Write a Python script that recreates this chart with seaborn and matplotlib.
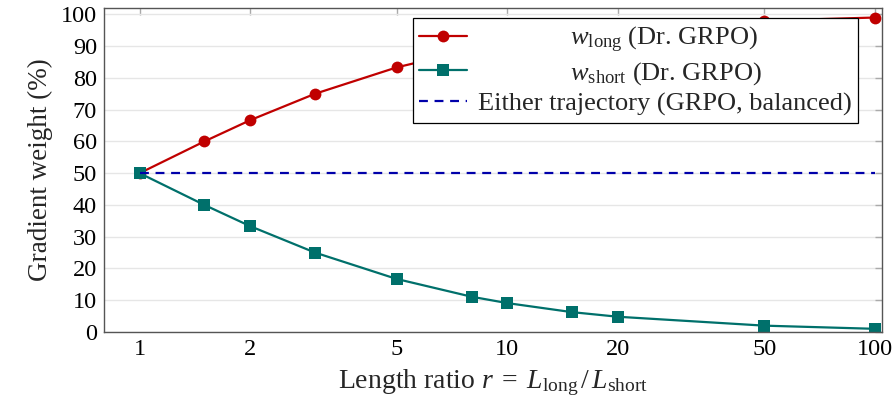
import matplotlib
matplotlib.use("Agg")
import matplotlib.pyplot as plt
import seaborn as sns
import pandas as pd
from matplotlib.ticker import FixedLocator, FixedFormatter, NullLocator

# ---- data ----
ratio = [1, 1.5, 2, 3, 5, 8, 10, 15, 20, 50, 100]
w_long = [50.0, 60.0, 66.7, 75.0, 83.3, 88.9, 90.9, 93.75, 95.2, 98.0, 99.0]
w_short = [50.0, 40.0, 33.3, 25.0, 16.7, 11.1, 9.1, 6.25, 4.8, 2.0, 1.0]
balanced = [50, 50, 50, 50, 50, 50, 50, 50, 50, 50, 50]
x_ticks = [1, 2, 5, 10, 20, 50, 100]
x_tick_labels = ["1", "2", "5", "10", "20", "50", "100"]
y_ticks = [0, 10, 20, 30, 40, 50, 60, 70, 80, 90, 100]

labels = [r"$w_{\mathrm{long}}$ (Dr. GRPO)",
          r"$w_{\mathrm{short}}$ (Dr. GRPO)",
          "Either trajectory (GRPO, balanced)"]

RED = "#C00000"
TEAL = "#00706B"
BLUE = "#0000AA"

sns.set_theme(style="white")
plt.rcParams["font.family"] = ["Liberation Serif", "DejaVu Serif"]
plt.rcParams["mathtext.fontset"] = "custom"
plt.rcParams["mathtext.rm"] = "Liberation Serif"
plt.rcParams["mathtext.it"] = "Liberation Serif:italic"
plt.rcParams["mathtext.bf"] = "Liberation Serif:bold"

fig = plt.figure(figsize=(8.95, 4.08), dpi=100)
ax = fig.add_axes([104 / 895, 76 / 408, 778 / 895, 324 / 408])

df_long = pd.DataFrame({"r": ratio, "w": w_long})
df_short = pd.DataFrame({"r": ratio, "w": w_short})
df_bal = pd.DataFrame({"r": ratio, "w": balanced})

sns.lineplot(data=df_long, x="r", y="w", ax=ax, color=RED, marker="o",
             markersize=8.5, markeredgewidth=0, linewidth=1.6, label=labels[0])
sns.lineplot(data=df_short, x="r", y="w", ax=ax, color=TEAL, marker="s",
             markersize=8.5, markeredgewidth=0, linewidth=1.6, label=labels[1])
sns.lineplot(data=df_bal, x="r", y="w", ax=ax, color=BLUE, linewidth=1.6,
             linestyle=(0, (4, 3)), label=labels[2])

ax.set_xscale("log")
ax.set_xlim(0.8, 104.5)
ax.set_ylim(0, 102)
ax.xaxis.set_major_locator(FixedLocator(x_ticks))
ax.xaxis.set_major_formatter(FixedFormatter(x_tick_labels))
ax.xaxis.set_minor_locator(NullLocator())
ax.yaxis.set_major_locator(FixedLocator(y_ticks))

ax.grid(axis="y", color="#e6e6e6", linewidth=1.0)
ax.grid(axis="x", visible=False)
ax.set_axisbelow(True)
for s in ax.spines.values():
    s.set_color("#555555")
    s.set_linewidth(1.0)
ax.tick_params(axis="both", which="major", direction="in", length=5,
               width=1.0, color="#aaaaaa", top=True, right=True,
               labelsize=17.5, labelcolor="black", pad=5)

ax.set_xlabel(r"Length ratio $r \;=\; L_{\mathrm{long}}\,/\,L_{\mathrm{short}}$",
              fontsize=20, labelpad=5)
ax.set_ylabel("Gradient weight (%)", fontsize=19.5, labelpad=6)

leg = ax.legend(loc="upper right", bbox_to_anchor=(0.969, 0.969),
                borderaxespad=0, fontsize=19, frameon=True, fancybox=False,
                framealpha=1, edgecolor="black", handlelength=1.8,
                handletextpad=0.4, labelspacing=0.2, borderpad=0.25)
leg.get_frame().set_linewidth(0.9)

# center legend labels like the reference
fig.canvas.draw()
rend = fig.canvas.get_renderer()
texts = leg.get_texts()
widths = [t.get_window_extent(rend).width for t in texts]
tmp1 = fig.text(0, 0, "a" + " " * 20 + "a", fontsize=19)
tmp2 = fig.text(0, 0, "aa", fontsize=19)
sp = (tmp1.get_window_extent(rend).width - tmp2.get_window_extent(rend).width) / 20
tmp1.remove(); tmp2.remove()
W = max(widths)
for t, w, lab in zip(texts, widths, labels):
    n = int(round((W - w) / 2 / sp))
    if n > 0:
        t.set_text(" " * n + lab)

fig.savefig("out.png", dpi=100)
